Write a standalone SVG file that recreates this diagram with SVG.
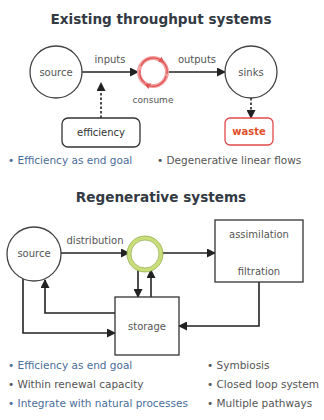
<svg xmlns="http://www.w3.org/2000/svg" width="324" height="420" viewBox="0 0 324 420">
<defs>
<style>
.title{font-family:"DejaVu Sans","Liberation Sans",sans-serif;font-weight:bold;font-size:13.6px;fill:#333a44;text-anchor:middle}
.lbl{font-family:"DejaVu Sans","Liberation Sans",sans-serif;font-size:10px;fill:#555;text-anchor:middle}
.bul{font-family:"DejaVu Sans","Liberation Sans",sans-serif;font-size:10.5px;fill:#555}
.blue{fill:#4a6d99}
.node{fill:#fff;stroke:#333;stroke-width:1.3}
.circ{fill:#fff;stroke:#444;stroke-width:1.3}
.ln{fill:none;stroke:#222;stroke-width:1.6}
.dash{fill:none;stroke:#222;stroke-width:1.6;stroke-dasharray:2.5 2}
</style>
<marker id="ah" markerUnits="userSpaceOnUse" markerWidth="9" markerHeight="9" refX="8" refY="4.5" orient="auto">
<path d="M0,0 L9,4.5 L0,9 z" fill="#222"/>
</marker>
<marker id="rh" markerUnits="userSpaceOnUse" markerWidth="6" markerHeight="6" refX="3" refY="3" orient="auto">
<path d="M0,0 L6,3 L0,6 z" fill="#e05555"/>
</marker>
</defs>

<text class="title" x="161" y="24">Existing throughput systems</text>
<text class="title" x="161" y="202">Regenerative systems</text>

<g id="connectors">
<line class="ln" x1="82" y1="72" x2="138" y2="72" marker-end="url(#ah)"/>
<line class="ln" x1="168" y1="72" x2="225" y2="72" marker-end="url(#ah)"/>
<line class="dash" x1="101" y1="118" x2="101" y2="83" marker-end="url(#ah)"/>
<line class="dash" x1="251" y1="98" x2="251" y2="118" marker-end="url(#ah)"/>
<text class="lbl" x="110" y="63">inputs</text>
<text class="lbl" x="197" y="63">outputs</text>

<line class="ln" x1="61" y1="253" x2="129" y2="253" marker-end="url(#ah)"/>
<line class="ln" x1="161" y1="253" x2="215" y2="253" marker-end="url(#ah)"/>
<line class="ln" x1="138" y1="270" x2="138" y2="297" marker-end="url(#ah)"/>
<line class="ln" x1="151" y1="297" x2="151" y2="270" marker-end="url(#ah)"/>
<path class="ln" d="M115,313 H45 V280" marker-end="url(#ah)"/>
<path class="ln" d="M23,279 V333 H115" marker-end="url(#ah)"/>
<path class="ln" d="M259,282 V326 H179" marker-end="url(#ah)"/>
<text class="lbl" x="95" y="244">distribution</text>
</g>

<g id="source1">
<circle class="circ" cx="56" cy="72" r="26"/>
<text class="lbl" x="56" y="76">source</text>
</g>
<g id="consume">
<circle cx="153" cy="72" r="14" fill="#fff" stroke="#f2a0a0" stroke-width="4"/>
<path d="M141,66 A13.5,13.5 0 0 1 162,61" fill="none" stroke="#e05555" stroke-width="1.3" marker-end="url(#rh)"/>
<path d="M166,76 A13.5,13.5 0 0 1 147,85" fill="none" stroke="#e05555" stroke-width="1.3" marker-end="url(#rh)"/>
<path d="M145,83 A13.5,13.5 0 0 1 140,70" fill="none" stroke="#e05555" stroke-width="1.3"/>
<path d="M163,62 A13.5,13.5 0 0 1 167,74" fill="none" stroke="#e05555" stroke-width="1.3"/>
<text class="lbl" x="153" y="103" style="font-size:9px">consume</text>
</g>
<g id="sinks">
<circle class="circ" cx="251" cy="72" r="26"/>
<text class="lbl" x="251" y="76">sinks</text>
</g>
<g id="efficiency">
<rect class="node" x="62" y="118" width="78" height="29" rx="6"/>
<text class="lbl" x="101" y="136" style="fill:#333">efficiency</text>
</g>
<g id="waste">
<rect x="225" y="118" width="48" height="27" rx="5" fill="#fff" stroke="#e04a4a" stroke-width="1.3"/>
<text class="lbl" x="249" y="135" style="fill:#e0502a;font-weight:bold">waste</text>
</g>

<text class="bul blue" x="8" y="164">• Efficiency as end goal</text>
<text class="bul" x="157" y="164">• Degenerative linear flows</text>

<g id="source2">
<circle class="circ" cx="34" cy="254" r="27"/>
<text class="lbl" x="34" y="257">source</text>
</g>
<g id="hub">
<circle cx="145" cy="254" r="16" fill="#fff" stroke="#c9de7a" stroke-width="4"/>
<circle cx="145" cy="254" r="18" fill="none" stroke="#8aa844" stroke-width="0.7"/>
<circle cx="145" cy="254" r="14" fill="none" stroke="#8aa844" stroke-width="0.7"/>
</g>
<g id="assimilation">
<rect class="node" x="215" y="220" width="88" height="62"/>
<text class="lbl" x="259" y="238">assimilation</text>
<text class="lbl" x="259" y="275">filtration</text>
</g>
<g id="storage">
<rect class="node" x="115" y="297" width="64" height="58"/>
<text class="lbl" x="147" y="330">storage</text>
</g>

<text class="bul blue" x="8" y="369">• Efficiency as end goal</text>
<text class="bul" x="8" y="388">• Within renewal capacity</text>
<text class="bul blue" x="8" y="407">• Integrate with natural processes</text>
<text class="bul" x="207" y="369">• Symbiosis</text>
<text class="bul" x="207" y="388">• Closed loop system</text>
<text class="bul" x="207" y="407">• Multiple pathways</text>
</svg>
